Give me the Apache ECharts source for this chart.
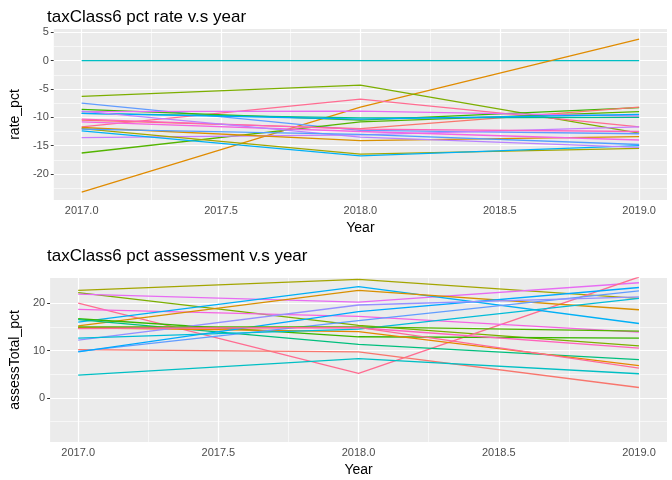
<!DOCTYPE html>
<html>
<head>
<meta charset="utf-8">
<script src="https://cdn.jsdelivr.net/npm/echarts@6/dist/echarts.min.js"></script>
<style>html,body{margin:0;background:#fff}#main{width:672px;height:480px}</style>
</head>
<body>
<div id="main"></div>
<script>
// data
var years = [2017, 2018, 2019];
var xTicks = [2017, 2017.5, 2018, 2018.5, 2019];
var rateTicks = [-20, -15, -10, -5, 0, 5];
var assessTicks = [0, 10, 20];

var rateColors = ['#00BFC4', '#E08B00', '#7CAE00', '#FF6C91', '#619CFF', '#39B600', '#F8766D', '#53B400',
  '#E76BF3', '#00C08B', '#00A9FF', '#C77CFF', '#A3A500', '#00B0F6', '#D89000', '#FF62BC', '#F564E3', '#B983FF', '#529EFF'];
var rateSeries = [
  [0, 0, 0], [-23.2, -8.2, 3.8], [-6.3, -4.3, -12.8], [-11.7, -6.8, -11.7], [-7.5, -12.3, -12.9],
  [-8.6, -10.5, -8.3], [-10.5, -12, -8.2], [-16.3, -10.8, -9], [-9, -8.9, -9.8], [-9.3, -10.1, -10],
  [-9.3, -10.3, -9.5], [-13.6, -13.1, -11.7], [-12, -16.5, -15.5], [-12.4, -16.8, -15], [-11.8, -14.1, -13.4],
  [-10.3, -12.1, -12.5], [-10.8, -12.5, -14], [-8.9, -13.5, -15.3], [-12.1, -13, -14.8]
];

var assessColors = ['#A3A500', '#7CAE00', '#E76BF3', '#FF6C91', '#F564E3', '#00B0F6', '#D89000', '#39B600',
  '#00BF7D', '#FF62BC', '#E58700', '#F8766D', '#00BFC4', '#619CFF', '#00A9FF', '#9590FF', '#00BCD8', '#53B400', '#FF6A98'];
var assessSeries = [
  [22.7, 25, 21], [22.2, 15.3, 11], [21.9, 20.2, 24.3], [20, 5.2, 25.5], [18.7, 17.2, 13.9],
  [16, 23.5, 15.7], [15.2, 22.7, 18.6], [16.7, 12.9, 12.6], [16.5, 11.3, 8.1], [14.8, 14.8, 10.5],
  [14.8, 14, 6.8], [10.2, 9.7, 2.2], [4.8, 8.3, 5.1], [9.8, 16.3, 22.6], [9.7, 18.2, 23.3],
  [12.2, 19.6, 21.3], [12.6, 14.5, 21], [15, 15, 14.1], [14.6, 14.9, 6.3]
];

var myChart = echarts.init(document.getElementById('main'));

// panel grid lines (major + minor), drawn under the data
function gridSeries(idx, xMajor, yMajor) {
  var d = [];
  var mid = function (a) { var r = []; for (var i = 0; i < a.length - 1; i++) r.push((a[i] + a[i + 1]) / 2); return r; };
  mid(xMajor).forEach(function (v) { d.push({ xAxis: v, lineStyle: { width: 0.6 } }); });
  mid(yMajor).forEach(function (v) { d.push({ yAxis: v, lineStyle: { width: 0.6 } }); });
  xMajor.forEach(function (v) { d.push({ xAxis: v }); });
  yMajor.forEach(function (v) { d.push({ yAxis: v }); });
  return {
    type: 'line', xAxisIndex: idx, yAxisIndex: idx, data: [], z: 1, silent: true,
    markLine: { silent: true, symbol: 'none', z: 1, animation: false, label: { show: false },
      lineStyle: { color: '#fff', width: 1.2, type: 'solid' }, data: d }
  };
}

function makeSeries(list, colors, idx) {
  return list.map(function (vals, i) {
    return {
      type: 'line', xAxisIndex: idx, yAxisIndex: idx, showSymbol: false, symbol: 'none',
      lineStyle: { width: 1.3, color: colors[i] }, itemStyle: { color: colors[i] }, z: 3,
      data: years.map(function (y, k) { return [y, vals[k]]; })
    };
  });
}

var axisText = { color: '#4d4d4d', fontSize: 11, fontFamily: 'Liberation Sans' };
function xAxis(idx) {
  return {
    type: 'value', gridIndex: idx, min: 2016.9, max: 2019.1, name: 'Year', nameLocation: 'middle', nameGap: 21,
    nameTextStyle: { fontSize: 14, color: '#000', fontFamily: 'Liberation Sans' },
    axisLine: { show: false }, splitLine: { show: false },
    axisTick: { show: true, customValues: xTicks, length: 3, lineStyle: { color: '#333' } },
    axisLabel: Object.assign({ customValues: xTicks, formatter: function (v) { return v.toFixed(1); }, margin: 5 }, axisText)
  };
}
function yAxis(idx, min, max, ticks, name) {
  return {
    type: 'value', gridIndex: idx, min: min, max: max, name: name, nameLocation: 'middle', nameGap: 26,
    nameTextStyle: { fontSize: 14, color: '#000', fontFamily: 'Liberation Sans' },
    axisLine: { show: false }, splitLine: { show: false },
    axisTick: { show: true, customValues: ticks, length: 3, lineStyle: { color: '#333' } },
    axisLabel: Object.assign({ customValues: ticks, margin: 5 }, axisText)
  };
}

var option = {
  animation: false,
  title: [
    { text: 'taxClass6 pct rate v.s year', left: 42, top: 4, textStyle: { fontSize: 17, fontWeight: 'normal', color: '#000', fontFamily: 'Liberation Sans' } },
    { text: 'taxClass6 pct assessment v.s year', left: 42, top: 243, textStyle: { fontSize: 17, fontWeight: 'normal', color: '#000', fontFamily: 'Liberation Sans' } }
  ],
  grid: [
    { left: 46, right: 5, top: 29, height: 171, show: true, backgroundColor: '#EBEBEB', borderWidth: 0 },
    { left: 46, right: 5, top: 278, height: 164, show: true, backgroundColor: '#EBEBEB', borderWidth: 0 }
  ],
  xAxis: [xAxis(0), xAxis(1)],
  yAxis: [yAxis(0, -24.6, 5.6, rateTicks, 'rate_pct'), yAxis(1, -9.3, 25.3, assessTicks, 'assessTotal_pct')],
  series: [gridSeries(0, xTicks, [-25].concat(rateTicks)), gridSeries(1, xTicks, [-10].concat(assessTicks))]
    .concat(makeSeries(rateSeries, rateColors, 0))
    .concat(makeSeries(assessSeries, assessColors, 1))
};

myChart.setOption(option);
</script>
</body>
</html>
